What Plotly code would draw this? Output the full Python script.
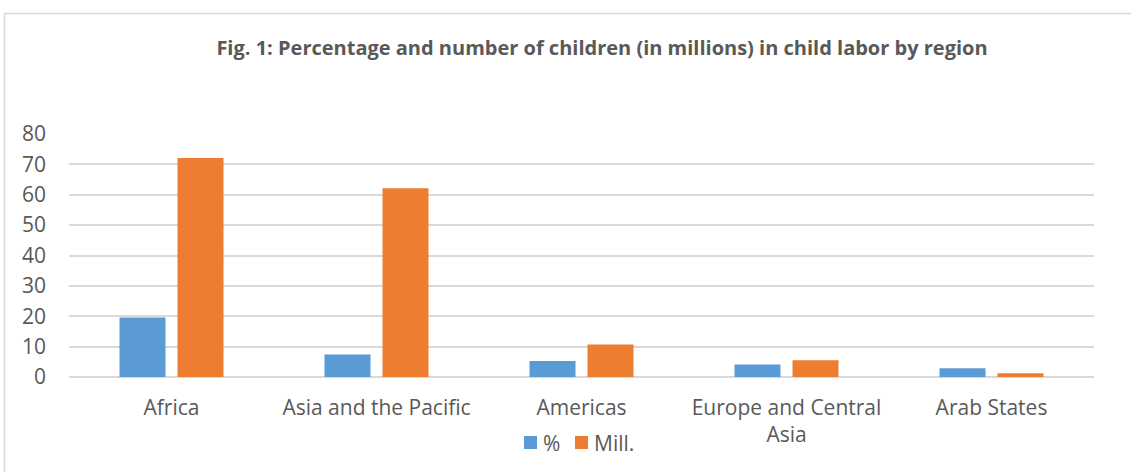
import plotly.graph_objects as go

regions = ["Africa", "Asia and the Pacific", "Americas", "Europe and Central<br>Asia", "Arab States"]
pct = [19.6, 7.4, 5.3, 4.1, 2.9]
mill = [72.1, 62.1, 10.7, 5.5, 1.2]
y_ticks = [0, 10, 20, 30, 40, 50, 60, 70, 80]
series_names = ["%", "Mill."]

BLUE = "#5B9BD5"
ORANGE = "#ED7D31"
TEXT = "#595959"
GRID = "#D9D9D9"
FONT = "Open Sans"

W, H = 1131, 472
ML, MR, MT, MB = 69, 37, 134, 95
PW, PH = W - ML - MR, H - MT - MB

def px_x(px):
    return (px - ML) / PW

def px_y(py):
    return (H - MB - py) / PH

fig = go.Figure()
fig.add_trace(go.Bar(name=series_names[0], x=regions, y=pct, marker=dict(color=BLUE, line=dict(width=0))))
fig.add_trace(go.Bar(name=series_names[1], x=regions, y=mill, marker=dict(color=ORANGE, line=dict(width=0))))

# compact legend row below the axis: a coloured square followed by the series name
legend_items = [(BLUE, series_names[0], 524), (ORANGE, series_names[1], 575)]
legend_shapes, legend_labels = [], []
for color, name, left in legend_items:
    legend_shapes.append(dict(
        type="rect", xref="paper", yref="paper",
        x0=px_x(left), x1=px_x(left + 13), y0=px_y(449), y1=px_y(436),
        line=dict(width=0), fillcolor=color,
    ))
    legend_labels.append(dict(
        text=name, xref="paper", yref="paper",
        x=px_x(left + 17), y=px_y(442.5), xanchor="left", yanchor="middle",
        showarrow=False, font=dict(size=21, color=TEXT),
    ))

fig.update_layout(
    width=W, height=H,
    margin=dict(l=ML, r=MR, t=MT, b=MB),
    paper_bgcolor="white", plot_bgcolor="white",
    barmode="group", bargap=0.434, bargroupgap=0.207,
    showlegend=False,
    font=dict(family=FONT, color=TEXT, size=21),
    title=dict(
        text="<b>Fig. 1: Percentage and number of children (in millions) in child labor by region</b>",
        x=602 / W, xanchor="center", xref="container",
        y=1 - 48 / H, yanchor="middle",
        font=dict(family=FONT, size=20, color=TEXT),
    ),
    annotations=legend_labels,
    xaxis=dict(showgrid=False, showline=False, ticks="", ticklabelstandoff=16,
               tickfont=dict(size=21, color=TEXT)),
    yaxis=dict(range=[0, 80], tickvals=y_ticks, showgrid=True, gridcolor=GRID, gridwidth=1.5,
               zeroline=True, zerolinecolor=GRID, zerolinewidth=1.5, showline=False,
               ticks="", ticklabelstandoff=22, tickfont=dict(size=21, color=TEXT)),
    shapes=[dict(type="rect", xref="paper", yref="paper",
                 x0=px_x(4.5), x1=px_x(1140), y0=px_y(480), y1=px_y(13.5),
                 line=dict(color=GRID, width=1.5), fillcolor="rgba(0,0,0,0)", layer="below")]
           + legend_shapes,
)

fig.write_html("out.html")
